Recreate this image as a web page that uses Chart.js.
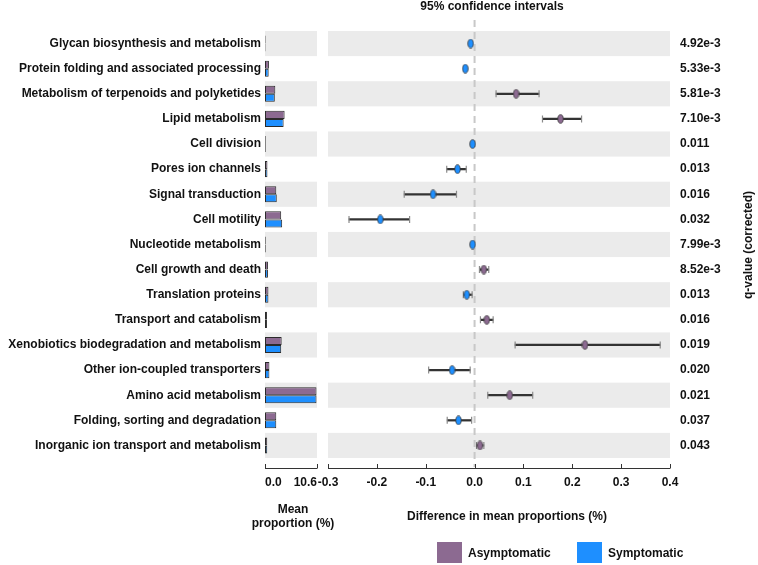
<!DOCTYPE html>
<html>
<head>
<meta charset="utf-8">
<script src="https://cdn.jsdelivr.net/npm/chart.js@4.4.1/dist/chart.umd.min.js"></script>
<style>
  body { margin: 0; background: #fff; }
  #wrap { position: relative; width: 758px; height: 565px; overflow: hidden; font-family: "Liberation Sans", Arial, sans-serif; }
  .abs { position: absolute; }
  .txt { font-weight: bold; font-size: 12px; color: #111; white-space: nowrap; }
  .ctr { text-align: center; line-height: 14px; }
  .sw { width: 25px; height: 21px; }
</style>
</head>
<body>
<div id="wrap">
  <div class="abs" style="left:0;top:0;width:322px;height:565px"><canvas id="meanChart"></canvas></div>
  <div class="abs" style="left:300px;top:0;width:458px;height:565px"><canvas id="diffChart"></canvas></div>
  <div class="abs txt" style="left:492px;top:6px;transform:translate(-50%,-50%)">95% confidence intervals</div>
  <div class="abs txt ctr" style="left:293px;top:516px;transform:translate(-50%,-50%)">Mean<br>proportion (%)</div>
  <div class="abs txt" style="left:507px;top:516px;transform:translate(-50%,-50%)">Difference in mean proportions (%)</div>
  <div class="abs txt" style="left:748px;top:245px;transform:translate(-50%,-50%) rotate(-90deg)">q-value (corrected)</div>
  <div class="abs sw" style="left:437px;top:542px;background:#8c6a91"></div>
  <div class="abs txt" style="left:468px;top:553px;transform:translateY(-50%)">Asymptomatic</div>
  <div class="abs sw" style="left:577px;top:542px;background:#1e8fff"></div>
  <div class="abs txt" style="left:608px;top:553px;transform:translateY(-50%)">Symptomatic</div>
</div>
<script>
const categories = [
  "Glycan biosynthesis and metabolism",
  "Protein folding and associated processing",
  "Metabolism of terpenoids and polyketides",
  "Lipid metabolism",
  "Cell division",
  "Pores ion channels",
  "Signal transduction",
  "Cell motility",
  "Nucleotide metabolism",
  "Cell growth and death",
  "Translation proteins",
  "Transport and catabolism",
  "Xenobiotics biodegradation and metabolism",
  "Other ion-coupled transporters",
  "Amino acid metabolism",
  "Folding, sorting and degradation",
  "Inorganic ion transport and metabolism"
];
// mean proportion (%)
const asymptomatic = [0.12, 0.8, 2.1, 4.0, 0.15, 0.5, 2.3, 3.3, 0.15, 0.6, 0.7, 0.4, 3.4, 0.9, 10.5, 2.3, 0.45];
const symptomatic  = [0.1, 0.75, 2.0, 3.8, 0.15, 0.5, 2.4, 3.5, 0.15, 0.6, 0.7, 0.4, 3.3, 0.9, 10.5, 2.3, 0.45];
const meanTicks = [0, 10.6];

// difference in mean proportions (%) and 95% CI
const diff   = [-0.008, -0.019, 0.085, 0.176, -0.004, -0.035, -0.085, -0.193, -0.004, 0.019, -0.016, 0.025, 0.226, -0.046, 0.072, -0.033, 0.011];
const ciLow  = [-0.010, -0.021, 0.044, 0.139, -0.005, -0.057, -0.144, -0.257, -0.005, 0.010, -0.023, 0.012, 0.083, -0.094, 0.027, -0.056, 0.004];
const ciHigh = [-0.006, -0.017, 0.132, 0.219, -0.003, -0.017, -0.037, -0.133, -0.003, 0.029, -0.005, 0.038, 0.380, -0.009, 0.119, -0.006, 0.019];
const qValues = ["4.92e-3", "5.33e-3", "5.81e-3", "7.10e-3", "0.011", "0.013", "0.016", "0.032", "7.99e-3",
                 "8.52e-3", "0.013", "0.016", "0.019", "0.020", "0.021", "0.037", "0.043"];

const PURPLE = "#8c6a91";
const BLUE = "#1e8fff";

Chart.defaults.font.family = "'Liberation Sans', Arial, sans-serif";
Chart.defaults.font.size = 12;
Chart.defaults.font.weight = "bold";
Chart.defaults.color = "#111";

// grey bands on every other row
const rowBands = {
  id: "rowBands",
  beforeDatasetsDraw(chart) {
    const { ctx, chartArea } = chart;
    const y = chart.scales.y;
    const half = (y.getPixelForValue(1) - y.getPixelForValue(0)) / 2;
    ctx.save();
    ctx.fillStyle = "#ebebeb";
    categories.forEach((c, i) => {
      if (i % 2) return;
      const cy = y.getPixelForValue(i);
      ctx.fillRect(chartArea.left, cy - half, chartArea.right - chartArea.left, half * 2);
    });
    ctx.restore();
  }
};

// axis line under the plot with ticks pointing up
const bottomAxis = {
  id: "bottomAxis",
  afterDraw(chart) {
    const { ctx, chartArea } = chart;
    const x = chart.scales.x;
    const base = chartArea.bottom + 10;
    ctx.save();
    ctx.strokeStyle = "#333";
    ctx.lineWidth = 1;
    ctx.beginPath();
    ctx.moveTo(x.left, base + 0.5);
    ctx.lineTo(x.right, base + 0.5);
    x.ticks.forEach(t => {
      const px = Math.round(x.getPixelForValue(t.value)) + 0.5;
      ctx.moveTo(px, base + 0.5);
      ctx.lineTo(px, base - 4);
    });
    ctx.stroke();
    ctx.restore();
  }
};

// dashed line at zero
const zeroLine = {
  id: "zeroLine",
  beforeDatasetsDraw(chart) {
    const { ctx, chartArea } = chart;
    const px = chart.scales.x.getPixelForValue(0);
    ctx.save();
    ctx.strokeStyle = "#c8c8c8";
    ctx.lineWidth = 2;
    ctx.setLineDash([7, 5]);
    ctx.beginPath();
    ctx.moveTo(px, 20);
    ctx.lineTo(px, chartArea.bottom + 9);
    ctx.stroke();
    ctx.restore();
  }
};

function dotImage(fill) {
  const c = document.createElement("canvas");
  c.width = 7; c.height = 10;
  const g = c.getContext("2d");
  g.beginPath();
  g.ellipse(3.5, 5, 2.7, 4.3, 0, 0, Math.PI * 2);
  g.fillStyle = fill;
  g.fill();
  g.lineWidth = 0.8;
  g.strokeStyle = "#3a3a3a";
  g.stroke();
  return c;
}
const purpleDot = dotImage(PURPLE);
const blueDot = dotImage(BLUE);

new Chart(document.getElementById("meanChart"), {
  type: "bar",
  data: {
    labels: categories,
    datasets: [
      { label: "Asymptomatic", data: asymptomatic, backgroundColor: PURPLE },
      { label: "Symptomatic", data: symptomatic, backgroundColor: BLUE }
    ]
  },
  options: {
    indexAxis: "y",
    responsive: true,
    maintainAspectRatio: false,
    animation: false,
    events: [],
    layout: { padding: { top: 31, bottom: 35, left: 0, right: 5 } },
    datasets: {
      bar: { borderColor: "#2b2b2b", borderWidth: 1, borderSkipped: false, categoryPercentage: 0.64, barPercentage: 1 }
    },
    plugins: { legend: { display: false }, tooltip: { enabled: false } },
    scales: {
      y: {
        type: "category",
        offset: true,
        grid: { display: false, drawTicks: false },
        border: { display: false },
        ticks: { padding: 4, autoSkip: false },
        afterFit(scale) { scale.width = 265; }
      },
      x: {
        type: "linear",
        min: 0,
        max: 10.6,
        grid: { display: false, drawTicks: true, tickLength: 17 },
        border: { display: false },
        afterBuildTicks(scale) { scale.ticks = meanTicks.map(v => ({ value: v })); },
        ticks: { padding: 0, align: "inner", autoSkip: false, maxRotation: 0, callback: v => v.toFixed(1) },
        afterFit(scale) { scale.height = 72; }
      }
    }
  },
  plugins: [rowBands, bottomAxis]
});

new Chart(document.getElementById("diffChart"), {
  type: "bar",
  data: {
    labels: categories,
    datasets: [
      {
        type: "scatter",
        label: "difference",
        data: diff.map((v, i) => ({ x: v, y: categories[i] })),
        pointStyle: diff.map(v => (v > 0 ? purpleDot : blueDot)),
        radius: 4,
        order: 0
      },
      {
        type: "scatter",
        label: "caps",
        data: ciLow.map((v, i) => ({ x: v, y: categories[i] }))
          .concat(ciHigh.map((v, i) => ({ x: v, y: categories[i] }))),
        pointStyle: "line",
        rotation: 90,
        radius: 3.5,
        borderColor: "#8a8a8a",
        borderWidth: 1.2,
        order: 1
      },
      {
        type: "bar",
        label: "ci",
        data: ciLow.map((v, i) => [v, ciHigh[i]]),
        backgroundColor: "#333",
        borderWidth: 0,
        barThickness: 1.6,
        order: 2
      }
    ]
  },
  options: {
    indexAxis: "y",
    responsive: true,
    maintainAspectRatio: false,
    animation: false,
    events: [],
    layout: { padding: { top: 31, bottom: 35, left: 28, right: 0 } },
    plugins: { legend: { display: false }, tooltip: { enabled: false } },
    scales: {
      y: {
        type: "category",
        offset: true,
        display: false
      },
      yq: {
        type: "category",
        position: "right",
        labels: qValues,
        offset: true,
        grid: { display: false, drawTicks: false },
        border: { display: false },
        ticks: { padding: 10, autoSkip: false, crossAlign: "near" },
        afterFit(scale) { scale.width = 88; }
      },
      x: {
        type: "linear",
        min: -0.3,
        max: 0.4,
        grid: { display: false, drawTicks: true, tickLength: 17 },
        border: { display: false },
        ticks: {
          stepSize: 0.1,
          padding: 0,
          autoSkip: false,
          maxRotation: 0,
          callback: v => (Math.abs(v) < 1e-9 ? "0.0" : v.toFixed(1))
        },
        afterFit(scale) { scale.height = 72; }
      }
    }
  },
  plugins: [rowBands, zeroLine, bottomAxis]
});
</script>
</body>
</html>
